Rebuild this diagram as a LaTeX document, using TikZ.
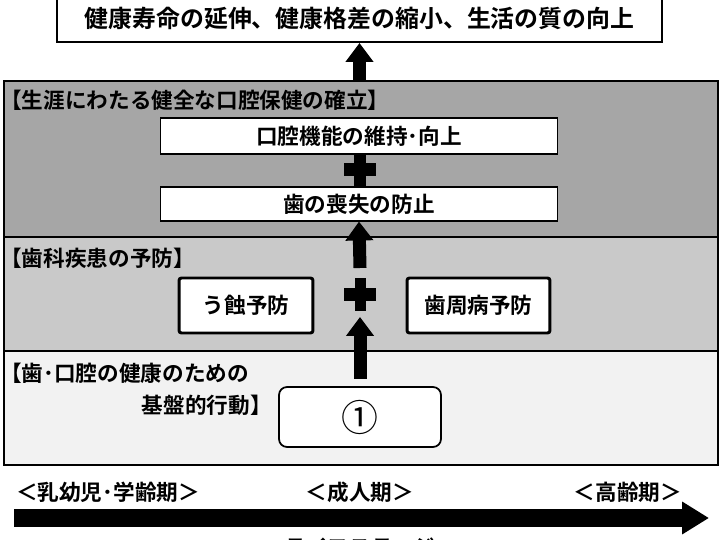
\documentclass[tikz,border=0pt]{standalone}
\usepackage{fontspec}
\setmainfont{Noto Sans CJK JP}[BoldFont={Noto Sans CJK JP Bold}]
\usepackage{xcolor}
\usetikzlibrary{arrows.meta}
\definecolor{panelDark}{gray}{0.65}
\definecolor{panelMid}{gray}{0.79}
\definecolor{panelLight}{gray}{0.95}
\newcommand\lblfont{\fontsize{12.3}{14}\selectfont\bfseries}

\tikzset{
  plus sign/.pic={
    \fill (-5.5,-16.5) rectangle (5.5,16.5);
    \fill (-16,-6.5) rectangle (16,6.5);
  }
}

\begin{document}
\begin{tikzpicture}[
  x=0.02cm, y=-0.02cm,
  every node/.style={inner sep=0pt, font=\lblfont},
  panel/.style={
    draw=black, line width=1.1pt,
    minimum width=14.28cm
  },
  plain box/.style={
    draw=black, fill=white, line width=0.6pt,
    minimum width=7.96cm
  },
  bold box/.style={
    draw=black, fill=white, line width=1.7pt,
    rounded corners=0.05cm, minimum height=1.1cm
  },
  big arrow/.style={
    line width=7.4pt,
    -{Triangle[width=15.3pt,length=10.8pt]}
  },
  life arrow/.style={
    line width=10.8pt,
    -{Triangle[width=17.6pt,length=15.3pt]}
  }
]
\useasboundingbox (0,0) rectangle (720,540);
\clip (0,0) rectangle (720,540);

% goal
\node[draw, line width=1.1pt, fill=white, minimum width=12.1cm, minimum height=0.94cm,
  font=\fontsize{13.6}{16}\selectfont\bfseries] (goal) at (359.5,18.5)
  {健康寿命の延伸、健康格差の縮小、生活の質の向上};

% the three layers
\node[panel, fill=panelDark, minimum height=3.12cm] (lifelong) at (361,159) {};
\node[panel, fill=panelMid, minimum height=2.28cm] (prevent) at (361,294) {};
\node[panel, fill=panelLight, minimum height=2.28cm] (basic) at (361,408) {};

\node[anchor=west] (lifelongTitle) at (0,100) {【生涯にわたる健全な口腔保健の確立】};
\node[anchor=west] (preventTitle) at (0,258) {【歯科疾患の予防】};
\node[anchor=west] (basicTitle) at (0,373) {【歯･口腔の健康のための};
\node[anchor=east] (basicTitleB) at (272,405) {基盤的行動】};

% top layer
\draw[line width=5.7pt] (359,154) -- (359,187);
\node[plain box, minimum height=0.72cm] (oralfn) at (359,136) {口腔機能の維持･向上};
\node[plain box, minimum height=0.68cm] (toothloss) at (359,204) {歯の喪失の防止};
\pic at (360,170) {plus sign};

% middle layer
\node[bold box, minimum width=2.68cm] (caries) at (246,305.5) {う蝕予防};
\node[bold box, minimum width=2.86cm] (perio) at (478.5,305.5) {歯周病予防};
\pic at (360,295) {plus sign};

% bottom layer
\node[draw, line width=1pt, fill=white, rounded corners=0.16cm,
  minimum width=3.24cm, minimum height=1.2cm,
  font=\fontsize{21}{24}\selectfont] (base1) at (360,417) {①};

% arrows
\coordinate (prevTop) at (360,268);
\coordinate (baseTop) at (360,379);
\coordinate (plusFoot) at (360,317);
\draw[big arrow] (lifelong.north -| goal.south) -- (goal.south);
\draw[big arrow] (prevTop) -- (toothloss.south);
\draw[big arrow] (baseTop) -- (plusFoot);

% life stages
\node (infant) at (108,492) {＜乳幼児･学齢期＞};
\node (adult) at (360,492) {＜成人期＞};
\node (elderly) at (628,492) {＜高齢期＞};
\coordinate (lifeStart) at (14,518);
\coordinate (lifeEnd) at (709,518);
\draw[life arrow] (lifeStart) -- (lifeEnd);
\node (stage) at (360,547) {ライフステージ};
\end{tikzpicture}
\end{document}
